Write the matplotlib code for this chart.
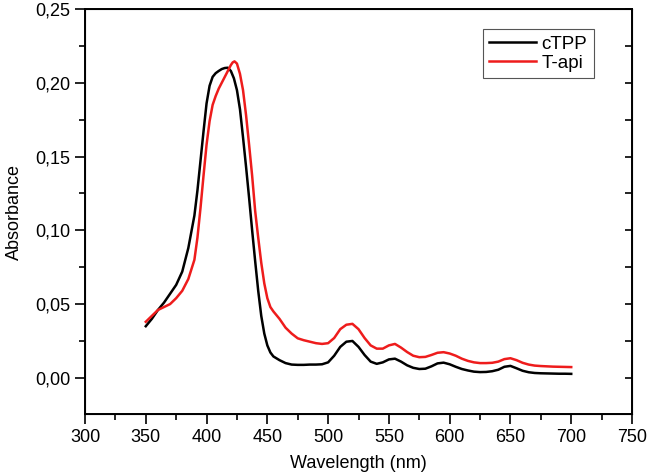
import matplotlib
matplotlib.use("Agg")
import matplotlib.pyplot as plt
from matplotlib.ticker import MultipleLocator, FuncFormatter

plt.rcParams['font.family'] = ['Liberation Sans', 'DejaVu Sans']

# cTPP spectrum
wl_ctpp = [350, 355, 360, 365, 370, 375, 380, 385, 390, 392.5, 395, 397.5,
           400, 402.5, 405, 407.5, 410, 412.5, 415, 417.5, 420, 422.5, 425, 427.5,
           430, 432.5, 435, 437.5, 440, 442.5, 445, 447.5, 450, 452.5, 455, 460,
           465, 470, 475, 480, 485, 490, 495,
           500, 505, 510, 515, 520, 525, 530, 535, 540, 545,
           550, 555, 560, 565, 570, 575, 580, 585, 590, 595,
           600, 605, 610, 615, 620, 625, 630, 635, 640, 645,
           650, 655, 660, 665, 670, 675, 680, 685, 690, 695, 700]
ctpp = [0.035, 0.040, 0.046, 0.051, 0.057, 0.063, 0.072, 0.088, 0.110, 0.127, 0.147, 0.167,
        0.186, 0.198, 0.204, 0.2065, 0.208, 0.2093, 0.2100, 0.2102, 0.208, 0.203, 0.195, 0.182,
        0.163, 0.143, 0.122, 0.100, 0.079, 0.059, 0.042, 0.030, 0.022, 0.0172, 0.0145, 0.012,
        0.010, 0.009, 0.0088, 0.0088, 0.009, 0.009, 0.0092,
        0.0105, 0.015, 0.021, 0.0245, 0.025, 0.021, 0.0155, 0.011, 0.0095, 0.0105,
        0.0125, 0.013, 0.011, 0.0085, 0.0068, 0.006, 0.0062, 0.0078, 0.0098, 0.0103,
        0.0092, 0.0075, 0.006, 0.005, 0.0042, 0.0039, 0.004, 0.0045, 0.0055, 0.0075,
        0.0081, 0.0065, 0.0048, 0.0038, 0.0033, 0.0031, 0.003, 0.0029, 0.0028, 0.0028, 0.0027]

# T-api spectrum
wl_tapi = [350, 355, 360, 365, 370, 375, 380, 385, 390, 392.5, 395, 397.5,
           400, 402.5, 405, 407.5, 410, 415, 417.5, 420, 421.5, 423, 425, 427.5,
           430, 432.5, 435, 437.5, 440, 442.5, 445, 447.5, 450, 452.5, 455, 460,
           465, 470, 475, 480, 485, 490, 495,
           500, 505, 510, 515, 520, 525, 530, 535, 540, 545,
           550, 555, 560, 565, 570, 575, 580, 585, 590, 595,
           600, 605, 610, 615, 620, 625, 630, 635, 640, 645,
           650, 655, 660, 665, 670, 675, 680, 685, 690, 695, 700]
tapi = [0.038, 0.042, 0.046, 0.048, 0.050, 0.054, 0.059, 0.067, 0.080, 0.095, 0.115, 0.137,
        0.158, 0.174, 0.185, 0.191, 0.196, 0.204, 0.208, 0.212, 0.2138, 0.2145, 0.213, 0.206,
        0.195, 0.178, 0.158, 0.137, 0.113, 0.095, 0.078, 0.064, 0.054, 0.048, 0.045, 0.040,
        0.034, 0.030, 0.0268, 0.0255, 0.0245, 0.0235, 0.023,
        0.0235, 0.027, 0.033, 0.036, 0.0366, 0.033, 0.027, 0.022, 0.0198, 0.0198,
        0.022, 0.023, 0.0205, 0.0175, 0.015, 0.014, 0.0142, 0.0155, 0.017, 0.0174,
        0.0165, 0.015, 0.013, 0.0115, 0.0105, 0.010, 0.010, 0.0102, 0.011, 0.0127,
        0.0133, 0.012, 0.0102, 0.009, 0.0083, 0.008, 0.0078, 0.0076, 0.0075, 0.0074, 0.0073]

fig = plt.figure(figsize=(6.48, 4.73), dpi=100)
ax = fig.add_axes([85 / 648, 1 - 414 / 473, (632 - 85) / 648, (414 - 9) / 473])

ax.plot(wl_ctpp, ctpp, color='black', lw=1.8, label='cTPP', solid_joinstyle='round')
ax.plot(wl_tapi, tapi, color='#ee1c1c', lw=1.8, label='T-api', solid_joinstyle='round')

ax.set_xlim(300, 750)
ax.set_ylim(-0.0245, 0.25)
ax.xaxis.set_major_locator(MultipleLocator(50))
ax.xaxis.set_minor_locator(MultipleLocator(25))
ax.yaxis.set_major_locator(MultipleLocator(0.05))
ax.yaxis.set_minor_locator(MultipleLocator(0.025))
ax.yaxis.set_major_formatter(FuncFormatter(lambda v, p: ('%.2f' % v).replace('.', ',')))

ax.tick_params(which='major', direction='out', length=7, width=1.2, labelsize=13)
ax.tick_params(which='minor', direction='out', length=4, width=1.2)
ax.tick_params(axis='x', pad=4)

for s in ax.spines.values():
    s.set_linewidth(1.4)

# right side ticks point inward
ax2 = ax.twinx()
ax2.set_ylim(ax.get_ylim())
ax2.yaxis.set_major_locator(MultipleLocator(0.05))
ax2.yaxis.set_minor_locator(MultipleLocator(0.025))
ax2.tick_params(which='both', direction='in', length=5, width=1.2, labelright=False)

ax.set_xlabel('Wavelength (nm)', fontsize=13, labelpad=6)
ax.set_ylabel('Absorbance', fontsize=13, labelpad=9)

leg = ax.legend(loc='upper right', bbox_to_anchor=(0.9305, 0.951), borderaxespad=0,
                fontsize=13.5, fancybox=False, framealpha=1, edgecolor='#555555',
                handlelength=2.5, handletextpad=0.3, borderpad=0.35, labelspacing=0.1)
leg.get_frame().set_linewidth(0.8)

fig.savefig('out.png', dpi=100)
